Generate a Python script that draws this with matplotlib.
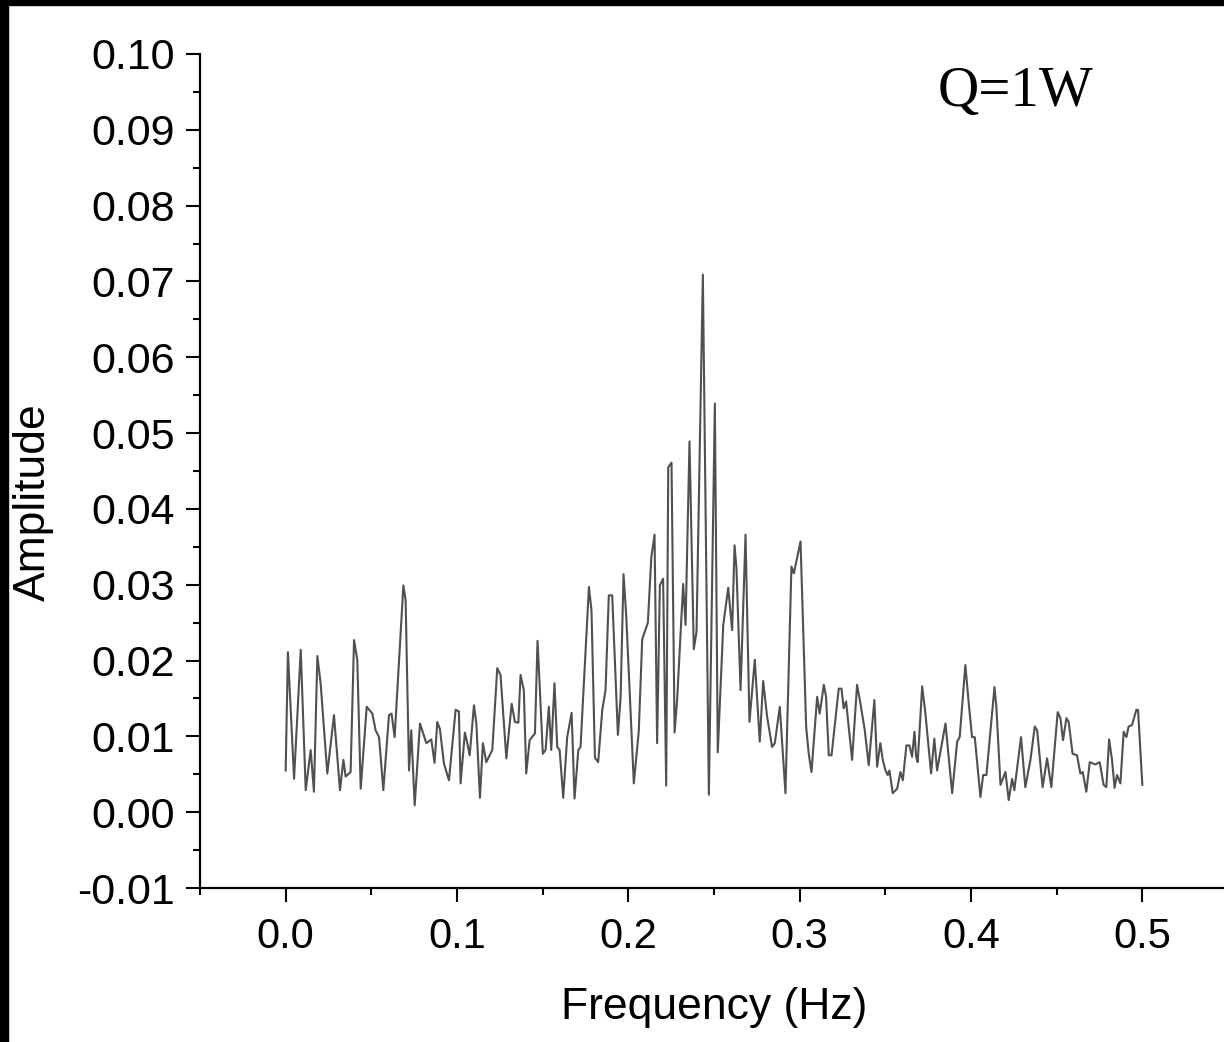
import matplotlib
matplotlib.use('Agg')
import matplotlib.pyplot as plt
import matplotlib.patches as mp
from matplotlib.ticker import MultipleLocator, FormatStrFormatter

# spectrum (Hz, amplitude)
freq = [0.0000, 0.0013, 0.0049, 0.0088, 0.0117, 0.0146, 0.0165, 0.0185, 0.0204, 0.0243,
        0.0282, 0.0317, 0.0337, 0.0350, 0.0379, 0.0399, 0.0418, 0.0438, 0.0473, 0.0506,
        0.0525, 0.0545, 0.0570, 0.0603, 0.0618, 0.0636, 0.0687, 0.0700, 0.0720, 0.0733,
        0.0753, 0.0784, 0.0821, 0.0850, 0.0869, 0.0885, 0.0900, 0.0924, 0.0953, 0.0992,
        0.1011, 0.1021, 0.1046, 0.1060, 0.1074, 0.1099, 0.1113, 0.1134, 0.1151, 0.1171,
        0.1206, 0.1235, 0.1254, 0.1288, 0.1319, 0.1338, 0.1358, 0.1371, 0.1390, 0.1404,
        0.1424, 0.1455, 0.1470, 0.1482, 0.1501, 0.1517, 0.1536, 0.1550, 0.1569, 0.1585,
        0.1599, 0.1620, 0.1643, 0.1669, 0.1686, 0.1708, 0.1721, 0.1770, 0.1785, 0.1805,
        0.1824, 0.1848, 0.1867, 0.1886, 0.1906, 0.1939, 0.1955, 0.1972, 0.1988, 0.2032,
        0.2061, 0.2081, 0.2114, 0.2134, 0.2153, 0.2168, 0.2184, 0.2203, 0.2221, 0.2233,
        0.2252, 0.2270, 0.2285, 0.2320, 0.2334, 0.2357, 0.2382, 0.2398, 0.2435, 0.2470,
        0.2505, 0.2522, 0.2554, 0.2583, 0.2606, 0.2620, 0.2631, 0.2655, 0.2684, 0.2707,
        0.2738, 0.2767, 0.2787, 0.2810, 0.2839, 0.2855, 0.2884, 0.2917, 0.2952, 0.2966,
        0.3005, 0.3038, 0.3053, 0.3069, 0.3102, 0.3117, 0.3141, 0.3154, 0.3170, 0.3186,
        0.3228, 0.3244, 0.3257, 0.3271, 0.3306, 0.3335, 0.3355, 0.3380, 0.3403, 0.3436,
        0.3452, 0.3471, 0.3485, 0.3501, 0.3514, 0.3524, 0.3543, 0.3569, 0.3588, 0.3602,
        0.3623, 0.3641, 0.3656, 0.3670, 0.3680, 0.3689, 0.3715, 0.3734, 0.3767, 0.3786,
        0.3802, 0.3851, 0.3890, 0.3919, 0.3934, 0.3967, 0.3987, 0.4006, 0.4022, 0.4055,
        0.4071, 0.4090, 0.4137, 0.4148, 0.4172, 0.4201, 0.4220, 0.4240, 0.4253, 0.4292,
        0.4317, 0.4347, 0.4372, 0.4386, 0.4418, 0.4444, 0.4469, 0.4506, 0.4522, 0.4537,
        0.4557, 0.4570, 0.4593, 0.4619, 0.4638, 0.4652, 0.4673, 0.4693, 0.4726, 0.4751,
        0.4774, 0.4790, 0.4806, 0.4823, 0.4838, 0.4852, 0.4872, 0.4891, 0.4907, 0.4920,
        0.4940, 0.4965, 0.4975, 0.5000]

amp = [0.0055, 0.0211, 0.0044, 0.0214, 0.0029, 0.0082, 0.0027, 0.0206, 0.0170, 0.0051,
       0.0128, 0.0029, 0.0069, 0.0047, 0.0053, 0.0227, 0.0201, 0.0031, 0.0139, 0.0130,
       0.0108, 0.0099, 0.0029, 0.0128, 0.0130, 0.0099, 0.0299, 0.0280, 0.0055, 0.0108,
       0.0009, 0.0117, 0.0091, 0.0096, 0.0065, 0.0119, 0.0110, 0.0064, 0.0042, 0.0135,
       0.0133, 0.0038, 0.0105, 0.0091, 0.0075, 0.0141, 0.0117, 0.0019, 0.0091, 0.0066,
       0.0082, 0.0190, 0.0181, 0.0071, 0.0143, 0.0119, 0.0118, 0.0181, 0.0161, 0.0051,
       0.0095, 0.0104, 0.0226, 0.0170, 0.0077, 0.0082, 0.0139, 0.0082, 0.0170, 0.0086,
       0.0082, 0.0019, 0.0099, 0.0131, 0.0018, 0.0082, 0.0086, 0.0297, 0.0266, 0.0072,
       0.0066, 0.0135, 0.0161, 0.0286, 0.0286, 0.0102, 0.0152, 0.0314, 0.0258, 0.0038,
       0.0107, 0.0228, 0.0250, 0.0336, 0.0366, 0.0091, 0.0299, 0.0308, 0.0035, 0.0455,
       0.0461, 0.0105, 0.0149, 0.0301, 0.0247, 0.0489, 0.0215, 0.0238, 0.0709, 0.0023,
       0.0539, 0.0079, 0.0247, 0.0296, 0.0240, 0.0352, 0.0322, 0.0161, 0.0366, 0.0119,
       0.0201, 0.0093, 0.0173, 0.0126, 0.0086, 0.0091, 0.0139, 0.0025, 0.0324, 0.0315,
       0.0357, 0.0112, 0.0077, 0.0053, 0.0152, 0.0130, 0.0168, 0.0152, 0.0075, 0.0075,
       0.0163, 0.0163, 0.0137, 0.0146, 0.0069, 0.0168, 0.0143, 0.0108, 0.0062, 0.0148,
       0.0060, 0.0091, 0.0069, 0.0055, 0.0049, 0.0055, 0.0025, 0.0031, 0.0053, 0.0042,
       0.0088, 0.0088, 0.0073, 0.0106, 0.0073, 0.0066, 0.0166, 0.0130, 0.0051, 0.0097,
       0.0055, 0.0117, 0.0025, 0.0093, 0.0099, 0.0194, 0.0143, 0.0099, 0.0099, 0.0020,
       0.0049, 0.0049, 0.0165, 0.0139, 0.0036, 0.0053, 0.0016, 0.0044, 0.0029, 0.0099,
       0.0033, 0.0069, 0.0113, 0.0108, 0.0033, 0.0071, 0.0033, 0.0132, 0.0124, 0.0095,
       0.0124, 0.0119, 0.0077, 0.0075, 0.0051, 0.0053, 0.0027, 0.0066, 0.0063, 0.0066,
       0.0036, 0.0033, 0.0096, 0.0069, 0.0032, 0.0049, 0.0038, 0.0106, 0.0099, 0.0113,
       0.0115, 0.0135, 0.0135, 0.0036]

x_ticks = [0.0, 0.1, 0.2, 0.3, 0.4, 0.5]
y_ticks = [-0.01, 0.00, 0.01, 0.02, 0.03, 0.04, 0.05, 0.06, 0.07, 0.08, 0.09, 0.10]

plt.rcParams['font.family'] = ['Liberation Sans', 'DejaVu Sans']
plt.rcParams['axes.unicode_minus'] = False

W, H = 1224, 1042
fig = plt.figure(figsize=(W / 100, H / 100), dpi=100)
# axes runs a little past the right edge, the original picture is cropped there
ax = fig.add_axes([200 / W, 154 / H, 1028 / W, 834 / H])

ax.plot(freq, amp, color='#505050', lw=1.5)

ax.set_xlim(-0.05, 0.55)
ax.set_ylim(-0.01, 0.10)
ax.set_xticks(x_ticks)
ax.set_yticks(y_ticks)
ax.xaxis.set_minor_locator(MultipleLocator(0.05))
ax.yaxis.set_minor_locator(MultipleLocator(0.005))
ax.xaxis.set_major_formatter(FormatStrFormatter('%.1f'))
ax.yaxis.set_major_formatter(FormatStrFormatter('%.2f'))

for side in ['top', 'right']:
    ax.spines[side].set_visible(False)
for side in ['left', 'bottom']:
    ax.spines[side].set_linewidth(1.6)

ax.tick_params(which='major', direction='out', length=10, width=1.5)
ax.tick_params(which='minor', direction='out', length=5, width=1.5)
ax.tick_params(axis='x', which='major', pad=11, labelsize=30)
ax.tick_params(axis='y', which='major', pad=8, labelsize=31)

fig.text(714 / W, 1 - 1007 / H, 'Frequency (Hz)', fontsize=32, ha='center', va='center')
fig.text(33 / W, 1 - 502 / H, 'Amplitude', fontsize=32, rotation=90, ha='center', va='center')
fig.text(1015 / W, 1 - 106 / H, 'Q=1W', family='Liberation Serif', fontsize=41,
         ha='center', va='baseline')

# black strips along the top and left edge of the original image
fig.add_artist(mp.Rectangle((0, 1 - 5 / H), 1, 5 / H, transform=fig.transFigure,
                            color='black', zorder=10))
fig.add_artist(mp.Rectangle((0, 0), 8 / W, 1, transform=fig.transFigure,
                            color='black', zorder=10))

fig.savefig('out.png', dpi=100)
